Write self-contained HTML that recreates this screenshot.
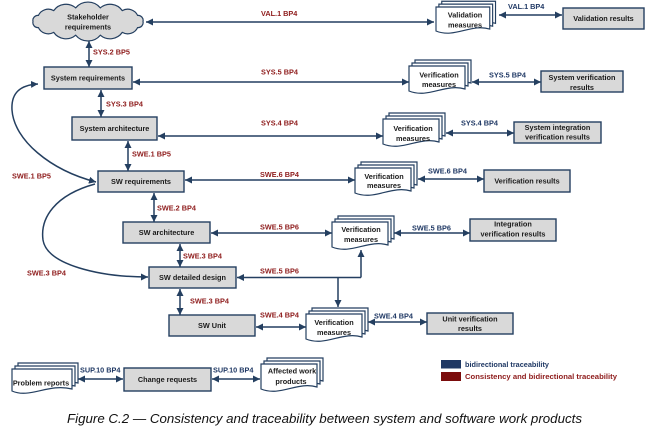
<!DOCTYPE html>
<html><head><meta charset="utf-8"><style>
html,body{margin:0;padding:0;background:#fff;}
svg{display:block;}
text{font-family:"Liberation Sans",Arial,sans-serif;}
.b{font-size:7.3px;font-weight:bold;fill:#1a1a1a;text-anchor:middle;}
.r{font-size:7.3px;font-weight:bold;fill:#8e1b1b;}
.u{font-size:7.3px;font-weight:bold;fill:#1f3864;}
.box{fill:#d9d9d9;stroke:#243f60;stroke-width:1.4;}
.ln{stroke:#243f60;stroke-width:1.5;fill:none;}
.doc{fill:#fff;stroke:#243f60;stroke-width:1.2;}
</style></head><body>
<svg width="658" height="430" viewBox="0 0 658 430" xmlns="http://www.w3.org/2000/svg">
<defs>
<marker id="a" markerWidth="7" markerHeight="7" refX="7" refY="3.5" orient="auto-start-reverse" markerUnits="userSpaceOnUse">
<path d="M0,0 L7,3.5 L0,7 z" fill="#243f60"/>
</marker>
<path id="pg" d="M0,0 H56 V23 C36.4,17 19.6,33 0,25 Z"/>
</defs>

<!-- Cloud -->
<path d="M143,21.5 A5,5 0 0 1 137.6,27.6 A11,11 0 0 1 122.3,32.4 A15,15 0 0 1 100.3,35.2 A16,16 0 0 1 75.7,35.2 A15,15 0 0 1 53.7,32.4 A11,11 0 0 1 38.4,27.6 A5,5 0 0 1 33,21.5 A5,5 0 0 1 38.4,15.4 A11,11 0 0 1 53.7,10.6 A15,15 0 0 1 75.7,7.85 A16,16 0 0 1 100.3,7.85 A15,15 0 0 1 122.3,10.6 A11,11 0 0 1 137.6,15.4 A5,5 0 0 1 143,21.5 Z" fill="#d9d9d9" stroke="#243f60" stroke-width="1.2"/>
<text class="b" x="88" y="19.5">Stakeholder</text>
<text class="b" x="88" y="29.5">requirements</text>

<!-- Left column boxes -->
<rect class="box" x="44" y="67" width="88" height="22"/>
<text class="b" x="88" y="80.5">System requirements</text>
<rect class="box" x="72" y="117" width="85" height="23"/>
<text class="b" x="114.5" y="131">System architecture</text>
<rect class="box" x="98" y="171" width="86" height="21"/>
<text class="b" x="141" y="184">SW requirements</text>
<rect class="box" x="123" y="222" width="87" height="21"/>
<text class="b" x="166.5" y="235">SW architecture</text>
<rect class="box" x="149" y="267" width="87" height="21"/>
<text class="b" x="192.5" y="280">SW detailed design</text>
<rect class="box" x="169" y="315" width="86" height="21"/>
<text class="b" x="212" y="328">SW Unit</text>

<!-- Right result boxes -->
<rect class="box" x="563" y="8" width="81" height="21"/>
<text class="b" x="603.5" y="21">Validation results</text>
<rect class="box" x="541" y="71" width="82" height="21"/>
<text class="b" x="582" y="80">System verification</text>
<text class="b" x="582" y="90">results</text>
<rect class="box" x="514" y="122" width="87" height="21"/>
<text class="b" x="557.5" y="130">System integration</text>
<text class="b" x="557.5" y="139.5">verification results</text>
<rect class="box" x="484" y="170" width="86" height="22"/>
<text class="b" x="527" y="183.5">Verification results</text>
<rect class="box" x="470" y="219" width="86" height="22"/>
<text class="b" x="513" y="226.5">Integration</text>
<text class="b" x="513" y="236.5">verification results</text>
<rect class="box" x="427" y="313" width="86" height="21"/>
<text class="b" x="470" y="321.5">Unit verification</text>
<text class="b" x="470" y="331">results</text>
<rect class="box" x="124" y="368" width="87" height="23"/>
<text class="b" x="167.5" y="382">Change requests</text>

<!-- Documents -->
<g class="doc" transform="translate(436,7) scale(0.96,0.96)"><use href="#pg" x="6" y="-6"/><use href="#pg" x="3" y="-3"/><use href="#pg"/></g>
<text class="b" x="465" y="17.5">Validation</text>
<text class="b" x="465" y="27.5">measures</text>

<g class="doc" transform="translate(409,66)"><use href="#pg" x="6" y="-6"/><use href="#pg" x="3" y="-3"/><use href="#pg"/></g>
<text class="b" x="439" y="77.5">Verification</text>
<text class="b" x="439" y="87">measures</text>

<g class="doc" transform="translate(383,119)"><use href="#pg" x="6" y="-6"/><use href="#pg" x="3" y="-3"/><use href="#pg"/></g>
<text class="b" x="413" y="131">Verification</text>
<text class="b" x="413" y="141">measures</text>

<g class="doc" transform="translate(355,168)"><use href="#pg" x="6" y="-6"/><use href="#pg" x="3" y="-3"/><use href="#pg"/></g>
<text class="b" x="384" y="179">Verification</text>
<text class="b" x="384" y="188">measures</text>

<g class="doc" transform="translate(332,222)"><use href="#pg" x="6" y="-6"/><use href="#pg" x="3" y="-3"/><use href="#pg"/></g>
<text class="b" x="361" y="232">Verification</text>
<text class="b" x="361" y="242">measures</text>

<g class="doc" transform="translate(306,314)"><use href="#pg" x="6" y="-6"/><use href="#pg" x="3" y="-3"/><use href="#pg"/></g>
<text class="b" x="334" y="325">Verification</text>
<text class="b" x="334" y="335">measures</text>

<g class="doc" transform="translate(12,369)">
<path d="M6,-6 H66 V14 C42,8 24,24 6,16 Z"/>
<path d="M3,-3 H63 V17 C39,11 21,27 3,19 Z"/>
<path d="M0,0 H60 V20 C36,14 18,30 0,22 Z"/>
</g>
<text class="b" x="41" y="385.5">Problem reports</text>

<g class="doc" transform="translate(261,364)"><use href="#pg" x="6" y="-6"/><use href="#pg" x="3" y="-3"/><use href="#pg"/></g>
<text class="b" x="292" y="373.5">Affected work</text>
<text class="b" x="291" y="384">products</text>

<!-- Connectors -->
<line class="ln" x1="146" y1="22" x2="434" y2="22" marker-start="url(#a)" marker-end="url(#a)"/>
<line class="ln" x1="499" y1="15" x2="562" y2="15" marker-start="url(#a)" marker-end="url(#a)"/>
<line class="ln" x1="89" y1="41" x2="89" y2="67" marker-start="url(#a)" marker-end="url(#a)"/>
<line class="ln" x1="133" y1="82" x2="409" y2="82" marker-start="url(#a)" marker-end="url(#a)"/>
<line class="ln" x1="472" y1="82" x2="541" y2="82" marker-start="url(#a)" marker-end="url(#a)"/>
<line class="ln" x1="101" y1="90" x2="101" y2="117" marker-start="url(#a)" marker-end="url(#a)"/>
<line class="ln" x1="158" y1="136" x2="383" y2="136" marker-start="url(#a)" marker-end="url(#a)"/>
<line class="ln" x1="446" y1="133" x2="514" y2="133" marker-start="url(#a)" marker-end="url(#a)"/>
<line class="ln" x1="128" y1="141" x2="128" y2="171" marker-start="url(#a)" marker-end="url(#a)"/>
<line class="ln" x1="185" y1="180" x2="355" y2="180" marker-start="url(#a)" marker-end="url(#a)"/>
<line class="ln" x1="418" y1="179" x2="484" y2="179" marker-start="url(#a)" marker-end="url(#a)"/>
<line class="ln" x1="154" y1="193" x2="154" y2="222" marker-start="url(#a)" marker-end="url(#a)"/>
<line class="ln" x1="211" y1="233" x2="332" y2="233" marker-start="url(#a)" marker-end="url(#a)"/>
<line class="ln" x1="394" y1="233" x2="470" y2="233" marker-start="url(#a)" marker-end="url(#a)"/>
<line class="ln" x1="180" y1="244" x2="180" y2="267" marker-start="url(#a)" marker-end="url(#a)"/>
<path d="M361,277.5 L361,250" class="ln" stroke-width="2" marker-end="url(#a)"/>
<path d="M361,277.5 L237,277.5" class="ln" stroke-width="2.6" marker-end="url(#a)"/>
<line class="ln" x1="338" y1="278" x2="338" y2="307" marker-end="url(#a)"/>
<line class="ln" x1="180" y1="289" x2="180" y2="315" marker-start="url(#a)" marker-end="url(#a)"/>
<line class="ln" x1="256" y1="327" x2="306" y2="327" marker-start="url(#a)" marker-end="url(#a)"/>
<line class="ln" x1="368" y1="322" x2="427" y2="322" marker-start="url(#a)" marker-end="url(#a)"/>
<line class="ln" x1="78" y1="379" x2="123" y2="379" marker-start="url(#a)" marker-end="url(#a)"/>
<line class="ln" x1="212" y1="379" x2="260" y2="379" marker-start="url(#a)" marker-end="url(#a)"/>

<!-- Curves -->
<path class="ln" d="M96,182 C50,170 14,140 12,110 C11,93 20,85 38,84" marker-start="url(#a)" marker-end="url(#a)"/>
<path class="ln" d="M95,184 C55,195 40,218 43,240 C47,265 100,277 148,277" marker-end="url(#a)"/>

<!-- Labels red -->
<text class="r" x="261" y="16">VAL.1 BP4</text>
<text class="r" x="93" y="54.5">SYS.2 BP5</text>
<text class="r" x="261" y="74.5">SYS.5 BP4</text>
<text class="r" x="106" y="106.5">SYS.3 BP4</text>
<text class="r" x="261" y="125.5">SYS.4 BP4</text>
<text class="r" x="132" y="156.5">SWE.1 BP5</text>
<text class="r" x="12" y="178.5">SWE.1 BP5</text>
<text class="r" x="260" y="177">SWE.6 BP4</text>
<text class="r" x="157" y="210.5">SWE.2 BP4</text>
<text class="r" x="260" y="229.5">SWE.5 BP6</text>
<text class="r" x="183" y="258.5">SWE.3 BP4</text>
<text class="r" x="260" y="273.5">SWE.5 BP6</text>
<text class="r" x="27" y="275.5">SWE.3 BP4</text>
<text class="r" x="190" y="303.5">SWE.3 BP4</text>
<text class="r" x="260" y="317.5">SWE.4 BP4</text>

<!-- Labels blue -->
<text class="u" x="508" y="9">VAL.1 BP4</text>
<text class="u" x="489" y="77.5">SYS.5 BP4</text>
<text class="u" x="461" y="125.5">SYS.4 BP4</text>
<text class="u" x="428" y="173.5">SWE.6 BP4</text>
<text class="u" x="412" y="230.5">SWE.5 BP6</text>
<text class="u" x="374" y="318.5">SWE.4 BP4</text>
<text class="u" x="80" y="372.5">SUP.10 BP4</text>
<text class="u" x="213" y="372.5">SUP.10 BP4</text>

<!-- Legend -->
<rect x="441" y="360" width="20" height="8.5" fill="#1f3864"/>
<text class="u" x="465" y="367">bidirectional traceability</text>
<rect x="441" y="372" width="20" height="9" fill="#7b0c0c"/>
<text class="r" x="465" y="379" textLength="152" lengthAdjust="spacingAndGlyphs">Consistency and bidirectional traceability</text>

<!-- Caption -->
<text x="67" y="423" font-size="12.5" font-style="italic" fill="#111" textLength="515" lengthAdjust="spacingAndGlyphs">Figure C.2 — Consistency and traceability between system and software work products</text>
</svg>
</body></html>
